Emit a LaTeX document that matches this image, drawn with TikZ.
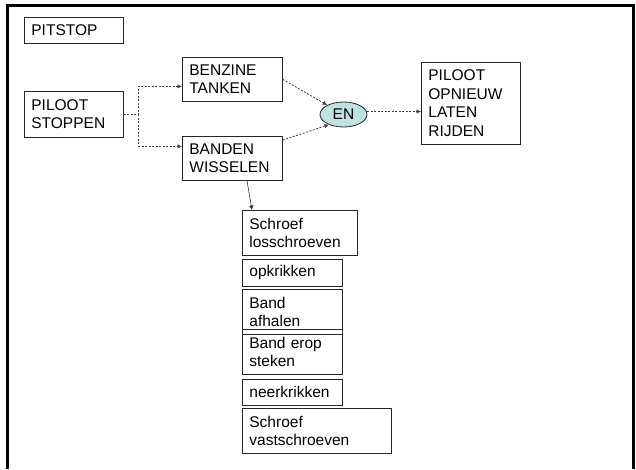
\documentclass[tikz,border=0pt]{standalone}
\usepackage{xcolor}
\usepackage{fontspec}
\setmainfont{Liberation Sans}
\usepackage{tikz}
\usetikzlibrary{arrows.meta,shapes.geometric}

\definecolor{enfill}{RGB}{191,227,227}

\begin{document}
\begin{tikzpicture}[x=1pt, y=-1pt,
  blok/.style={draw=black!85, line width=0.8pt, anchor=north west, align=left,
    inner xsep=7pt, inner ysep=0pt, font=\fontsize{15.5}{18.5}\selectfont},
  stippel/.style={draw=black!75, line width=0.8pt, dash pattern=on 2pt off 1.5pt,
    -{Latex[length=4.5pt,width=4.5pt]}},
  pijl/.style={draw=black!80, line width=0.6pt, -{Latex[length=4.5pt,width=4.5pt]}}]
\useasboundingbox (0,0) rectangle (636,469);
\draw[line width=2.5pt] (7.5,469) -- (7.5,5.5) -- (633.5,5.5) -- (633.5,469);

% bovenste rij
\node[blok, minimum width=99pt, minimum height=26pt, text width=85pt] (pitstop) at (24,17) {PITSTOP};
\node[blok, minimum width=99pt, minimum height=46pt, text width=85pt] (stoppen) at (24,91) {PILOOT\\STOPPEN};
\node[blok, minimum width=100pt, minimum height=44pt, text width=86pt] (tanken) at (182,57) {BENZINE\\TANKEN};
\node[blok, minimum width=100pt, minimum height=44pt, text width=86pt] (wisselen) at (182,136) {BANDEN\\WISSELEN};
\node[draw=black!85, fill=enfill, line width=0.8pt, ellipse, inner sep=0pt,
  minimum width=47pt, minimum height=25pt, font=\fontsize{15.5}{18.5}\selectfont] (en) at (343.5,114.5) {EN};
\node[blok, minimum width=99pt, minimum height=82pt, text width=85pt] (rijden) at (421,62) {PILOOT\\OPNIEUW\\LATEN\\RIJDEN};

% stappen banden wisselen
\node[blok, minimum width=115pt, minimum height=45pt, text width=101pt] (los) at (242,210) {Schroef\\losschroeven};
\node[blok, minimum width=100pt, minimum height=27pt, text width=86pt] (op) at (242,259) {opkrikken};
\node[blok, minimum width=100pt, minimum height=45pt, text width=86pt] (af) at (242,289) {Band\\afhalen};
\node[blok, minimum width=100pt, minimum height=45pt, text width=86pt] (erop) at (242,329) {Band erop\\steken};
\node[blok, minimum width=100pt, minimum height=26pt, text width=86pt] (neer) at (242,379) {neerkrikken};
\node[blok, minimum width=149pt, minimum height=45pt, text width=135pt] (vast) at (242,408) {Schroef\\vastschroeven};

\coordinate (splits) at ([xshift=15pt]stoppen.east);
\draw[stippel] (stoppen.east) -- (splits) |- ([yshift=-7pt]tanken.west);
\draw[stippel] (splits) |- ([yshift=12pt]wisselen.west);
\draw[stippel] (tanken.east) -- (en.150);
\draw[stippel] (wisselen.20) -- (en.215);
\draw[stippel] ([yshift=3pt]en.east) -- ([yshift=3pt]en.east -| rijden.west);
\draw[pijl] ([xshift=65pt]wisselen.south west) -- ([xshift=10pt]los.north west);
\end{tikzpicture}
\end{document}
